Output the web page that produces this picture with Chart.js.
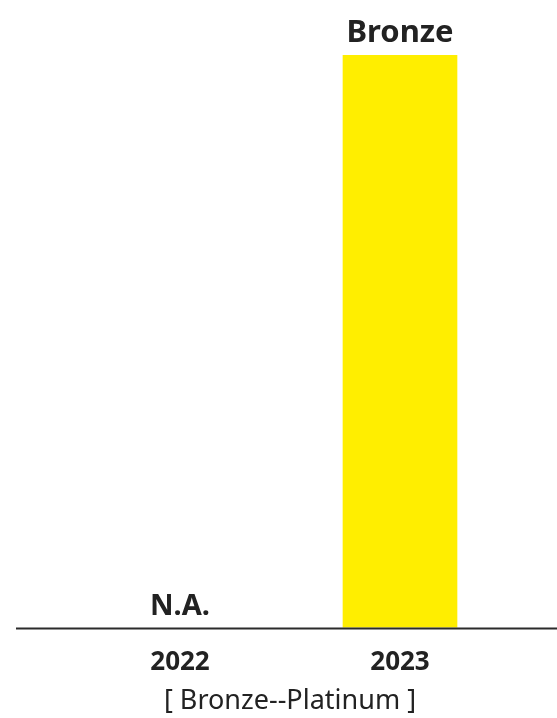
<!DOCTYPE html>
<html>
<head>
<meta charset="utf-8">
<script src="https://cdn.jsdelivr.net/npm/chart.js@4/dist/chart.umd.min.js"></script>
<style>
  html, body { margin: 0; padding: 0; background: #fff; }
  .chart-container { width: 557px; height: 718px; }
</style>
</head>
<body>
<div class="chart-container"><canvas id="chart"></canvas></div>
<script>
const years = ['2022', '2023'];
const levels = [null, 1];
const levelLabels = ['N.A.', 'Bronze'];
const scaleName = '[ Bronze--Platinum ]';

const FONT = "'Noto Sans', sans-serif";

// value labels on top of bars, and the long baseline
const labelPlugin = {
  id: 'labels',
  afterDatasetsDraw(chart) {
    const ctx = chart.ctx;
    const meta = chart.getDatasetMeta(0);
    const y0 = chart.scales.y.getPixelForValue(0);
    ctx.save();
    ctx.strokeStyle = '#2b2b2b';
    ctx.lineWidth = 2;
    ctx.beginPath();
    ctx.moveTo(16, y0 + 1);
    ctx.lineTo(chart.width, y0 + 1);
    ctx.stroke();

    ctx.fillStyle = '#222';
    ctx.textAlign = 'center';
    ctx.textBaseline = 'alphabetic';
    meta.data.forEach((bar, i) => {
      const x = chart.scales.x.getPixelForValue(i);
      if (levels[i] == null) {
        ctx.font = 'bold 29px ' + FONT;
        ctx.fillText(levelLabels[i], x, y0 - 13);
      } else {
        ctx.font = 'bold 31px ' + FONT;
        ctx.fillText(levelLabels[i], x, bar.y - 13);
      }
    });
    ctx.restore();
  }
};

new Chart(document.getElementById('chart'), {
  type: 'bar',
  data: {
    labels: years,
    datasets: [{
      data: levels,
      backgroundColor: '#FFEE00',
      barThickness: 114
    }]
  },
  options: {
    responsive: true,
    maintainAspectRatio: false,
    animation: false,
    layout: { padding: { top: 55, left: 70, right: 47, bottom: 0 } },
    plugins: {
      legend: { display: false },
      tooltip: { enabled: false },
      title: {
        display: true,
        position: 'bottom',
        text: scaleName,
        color: '#222',
        font: { family: FONT, size: 27, weight: 'normal' },
        padding: { top: 6, bottom: 0 }
      }
    },
    scales: {
      x: {
        grid: { display: false },
        border: { display: false },
        afterFit(scale) { scale.height = 52; },
        ticks: {
          color: '#222',
          font: { family: FONT, size: 26, weight: 'bold' },
          padding: 11
        }
      },
      y: {
        display: false,
        min: 0,
        max: 1
      }
    }
  },
  plugins: [labelPlugin]
});
</script>
</body>
</html>
